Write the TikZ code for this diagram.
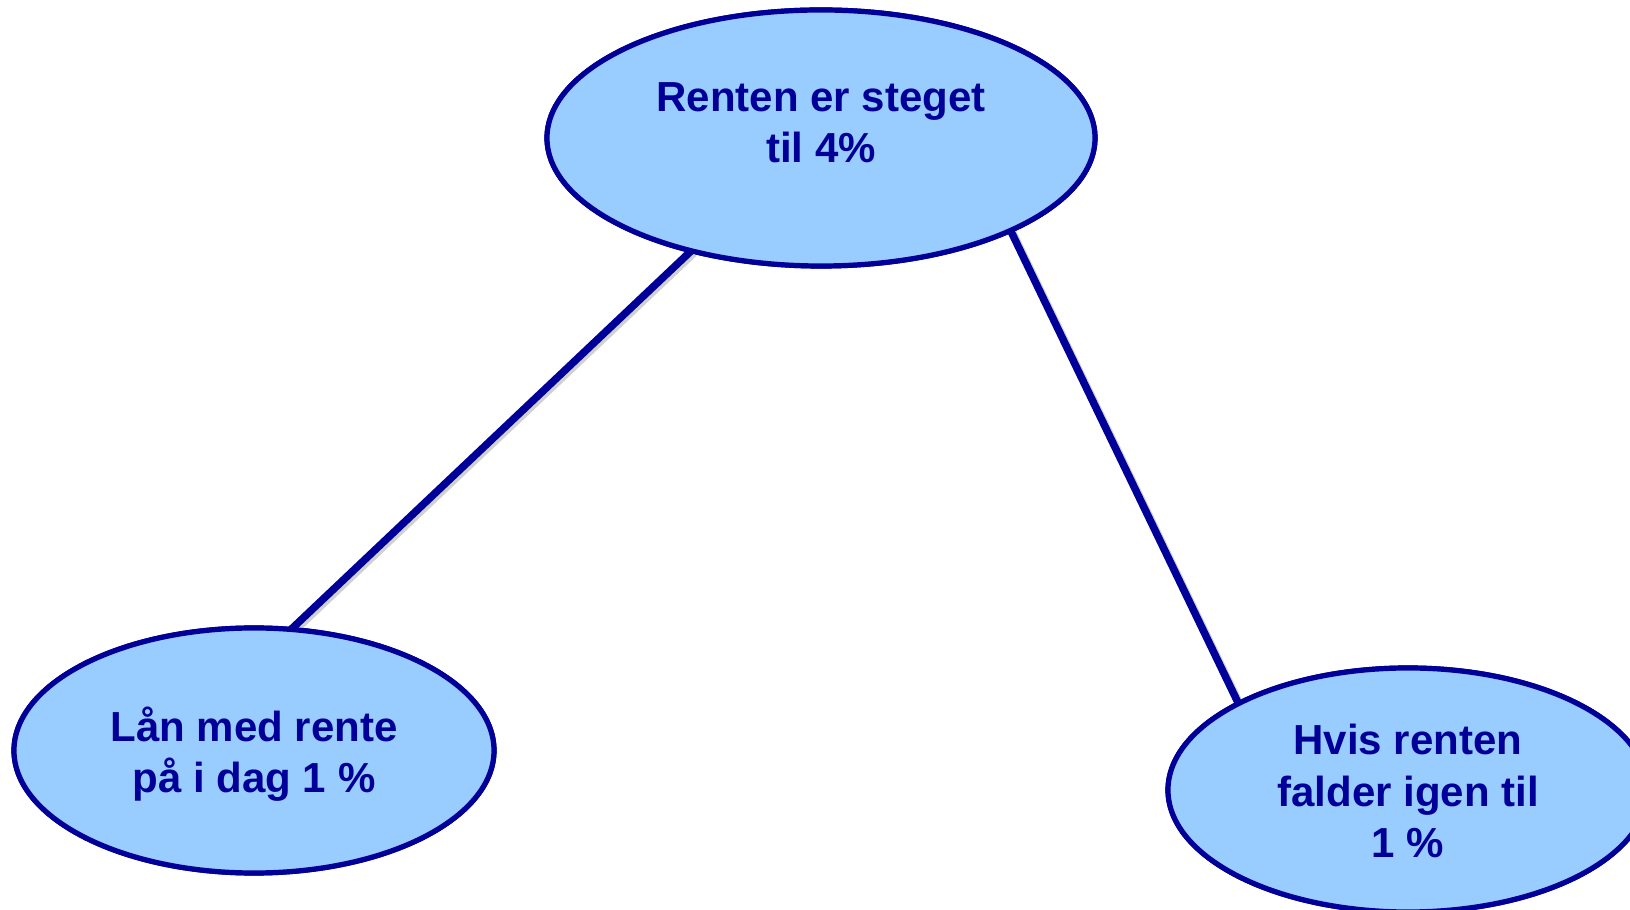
\documentclass[tikz,border=0pt]{standalone}
\usepackage{fontspec}
\setmainfont{Liberation Sans}
\usetikzlibrary{shapes.geometric}
\definecolor{dblue}{HTML}{000099}
\definecolor{lblue}{HTML}{99CCFF}
\begin{document}
\begin{tikzpicture}[x=1pt,y=1pt,
  bub/.style={ellipse, draw=dblue, fill=lblue, line width=5.2pt, inner sep=0pt, outer sep=0pt},
  lbl/.style={anchor=base, text=dblue, font=\fontsize{42}{51}\selectfont\bfseries, inner sep=0pt},
  conn/.style={draw=dblue, line width=7.5pt},
  shad/.style={draw=black!18, line width=7.5pt, transform canvas={xshift=2.5pt,yshift=-2.5pt}}]
\useasboundingbox (0,0) rectangle (1630,910);
\fill[white] (0,0) rectangle (1630,910);
% ellipses (positions)
\node[bub, minimum width=548pt, minimum height=256pt] (top) at (821,772) {};
\node[bub, minimum width=480pt, minimum height=245pt] (left) at (254,159.5) {};
\node[bub, minimum width=480pt, minimum height=244pt] (right) at (1408,120) {};
% connectors
\draw[shad] (top.221.7) -- (left.73);
\draw[shad] (top.334) -- (right.153);
\draw[conn] (top.221.7) -- (left.73);
\draw[conn] (top.334) -- (right.153);
% redraw ellipses on top of connector ends
\node[bub, minimum width=548pt, minimum height=256pt] (topb) at (top) {};
\node[bub, minimum width=480pt, minimum height=245pt] (leftb) at (left) {};
\node[bub, minimum width=480pt, minimum height=244pt] (rightb) at (right) {};
% texts
\node[lbl] (t1) at (821,798) {Renten er steget};
\node[lbl] (t2) at (821,747) {til 4\%};
\node[lbl] (l1) at (254,168) {Lån med rente};
\node[lbl] (l2) at (254,117) {på i dag 1 \%};
\node[lbl] (r1) at (1408,155) {Hvis renten};
\node[lbl] (r2) at (1408,103) {falder igen til};
\node[lbl] (r3) at (1408,52) {1 \%};
\end{tikzpicture}
\end{document}
